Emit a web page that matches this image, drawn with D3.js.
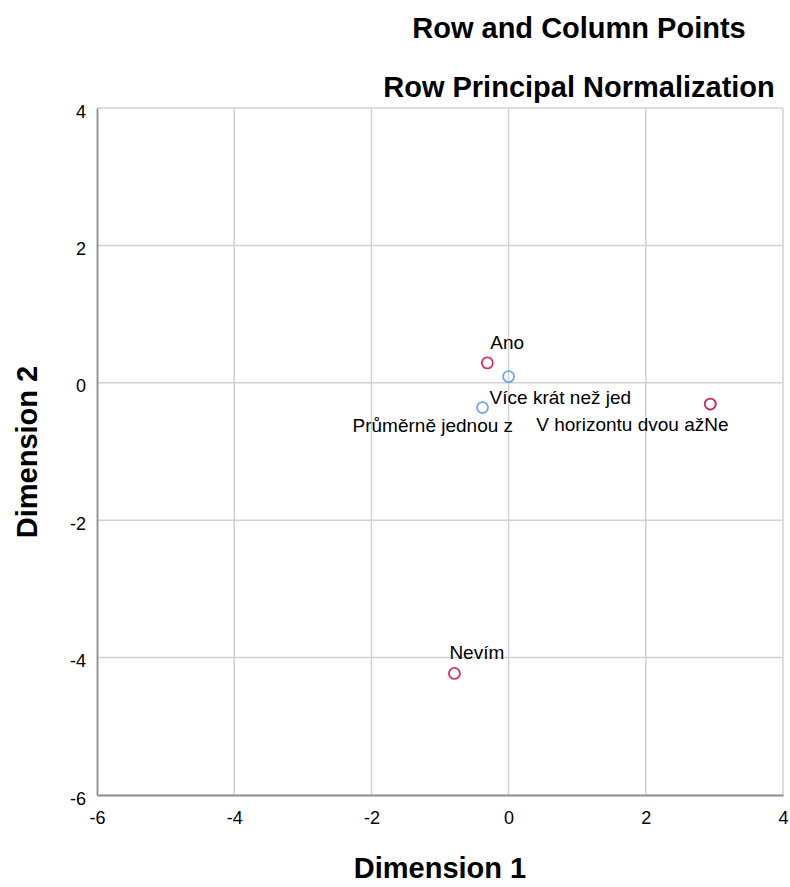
<!DOCTYPE html>
<html>
<head>
<meta charset="utf-8">
<script src="https://cdn.jsdelivr.net/npm/d3@7"></script>
<style>
    body { margin: 0; background: #fff; }
    text { font-family: "Liberation Sans", Arial, sans-serif; fill: #000; }
</style>
</head>
<body>
<svg id="chart" width="790" height="887"></svg>
<script>
// row points (blue)
var rowNames = ["Více krát než jed", "Průměrně jednou z", "V horizontu dvou až"];
var rowX = [0.00, -0.38, 2.94];
var rowY = [0.09, -0.36, -0.31];

// column points (red)
var colNames = ["Ano", "Ne", "Nevím"];
var colX = [-0.31, 2.94, -0.79];
var colY = [0.29, -0.31, -4.23];

var tickValues = [-6, -4, -2, 0, 2, 4];

// label offsets from the point, in pixels (layout only)
var rowLabelOffset = [[-19, 27], [-130, 24], [-174, 27]];
var colLabelOffset = [[3, -14], [-6, 27], [-5, -14]];

var svg = d3.select("#chart");
var x = d3.scaleLinear().domain([-6, 4]).range([97, 783]);
var y = d3.scaleLinear().domain([-6, 4]).range([795, 108]);

// grid
svg.append("g").selectAll("line").data(tickValues.slice(1))
        .enter().append("line")
        .attr("x1", function (d) { return x(d); })
        .attr("x2", function (d) { return x(d); })
        .attr("y1", y(-6))
        .attr("y2", y(4))
        .attr("stroke", "#d2d2d2")
        .attr("stroke-width", 1.5);
svg.append("g").selectAll("line").data(tickValues.slice(1))
        .enter().append("line")
        .attr("y1", function (d) { return y(d); })
        .attr("y2", function (d) { return y(d); })
        .attr("x1", x(-6))
        .attr("x2", x(4))
        .attr("stroke", "#d2d2d2")
        .attr("stroke-width", 1.5);

// axes
var xAxis = svg.append("g").attr("transform", "translate(0," + y(-6) + ")")
        .call(d3.axisBottom(x).tickValues(tickValues).tickFormat(String).tickSize(0).tickPadding(16));
var yAxis = svg.append("g").attr("transform", "translate(" + x(-6) + ",0)")
        .call(d3.axisLeft(y).tickValues(tickValues).tickFormat(String).tickSize(0).tickPadding(11));
[xAxis, yAxis].forEach(function (a) {
    a.select(".domain").attr("stroke", "#8c8c8c").attr("stroke-width", 1.8);
    a.selectAll("text").style("font-size", "18px")
            .style("font-family", "'Liberation Sans', Arial, sans-serif").attr("fill", "#000");
});
yAxis.selectAll("text").attr("dy", "0.5em");

// row points
svg.append("g").selectAll("circle").data(rowNames)
        .enter().append("circle")
        .attr("cx", function (d, i) { return x(rowX[i]); })
        .attr("cy", function (d, i) { return y(rowY[i]); })
        .attr("r", 5.5)
        .attr("fill", "none")
        .attr("stroke", "#6fa8ee")
        .attr("stroke-width", 1.8);

// column points
svg.append("g").selectAll("circle").data(colNames)
        .enter().append("circle")
        .attr("cx", function (d, i) { return x(colX[i]); })
        .attr("cy", function (d, i) { return y(colY[i]); })
        .attr("r", 5.5)
        .attr("fill", "none")
        .attr("stroke", "#d6305c")
        .attr("stroke-width", 1.8);

// labels
svg.append("g").selectAll("text").data(rowNames)
        .enter().append("text")
        .attr("x", function (d, i) { return x(rowX[i]) + rowLabelOffset[i][0]; })
        .attr("y", function (d, i) { return y(rowY[i]) + rowLabelOffset[i][1]; })
        .style("font-size", "19px")
        .text(function (d) { return d; });
svg.append("g").selectAll("text").data(colNames)
        .enter().append("text")
        .attr("x", function (d, i) { return x(colX[i]) + colLabelOffset[i][0]; })
        .attr("y", function (d, i) { return y(colY[i]) + colLabelOffset[i][1]; })
        .style("font-size", "19px")
        .text(function (d) { return d; });

// titles
svg.append("text").attr("x", 579).attr("y", 38).attr("text-anchor", "middle")
        .style("font-size", "29px").style("font-weight", "bold")
        .text("Row and Column Points");
svg.append("text").attr("x", 579).attr("y", 97).attr("text-anchor", "middle")
        .style("font-size", "29px").style("font-weight", "bold")
        .text("Row Principal Normalization");
svg.append("text").attr("x", 440).attr("y", 878).attr("text-anchor", "middle")
        .style("font-size", "29px").style("font-weight", "bold")
        .text("Dimension 1");
svg.append("text").attr("transform", "translate(37,452) rotate(-90)").attr("text-anchor", "middle")
        .style("font-size", "29px").style("font-weight", "bold")
        .text("Dimension 2");
</script>
</body>
</html>
